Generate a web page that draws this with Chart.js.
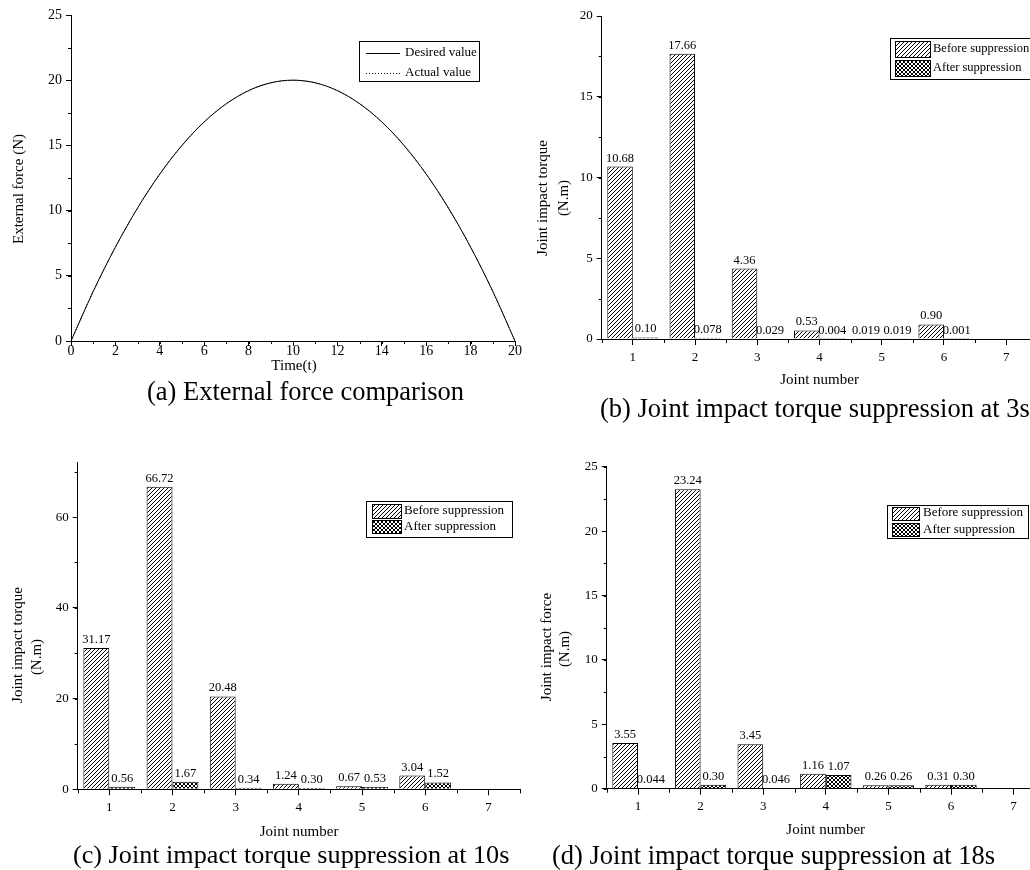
<!DOCTYPE html>
<html>
<head>
<meta charset="utf-8">
<script src="https://cdn.jsdelivr.net/npm/chart.js@4.4.0/dist/chart.umd.min.js"></script>
<style>
  html, body { margin: 0; padding: 0; background: #fff; width: 1030px; height: 870px; overflow: hidden; position: relative; }
  canvas { position: absolute; }
  .cap { position: absolute; font-family: 'Liberation Serif', 'Times New Roman', serif; font-size: 26.5px; line-height: 30px; white-space: nowrap; color: #000; }
</style>
</head>
<body>
<canvas id="chartA" width="530" height="440" style="left:0px;top:0px"></canvas>
<canvas id="chartB" width="540" height="440" style="left:510px;top:0px"></canvas>
<canvas id="chartC" width="530" height="430" style="left:0px;top:440px"></canvas>
<canvas id="chartD" width="540" height="430" style="left:510px;top:440px"></canvas>
<div class="cap" style="left:147px;top:376px">(a) External force comparison</div>
<div class="cap" style="left:600px;top:393px">(b) Joint impact torque suppression at 3s</div>
<div class="cap" style="left:73px;top:840px;font-size:26.2px">(c) Joint impact torque suppression at 10s</div>
<div class="cap" style="left:552px;top:840px">(d) Joint impact torque suppression at 18s</div>
<script>
// données
const timeValues = [0, 1, 2, 3, 4, 5, 6, 7, 8, 9, 10, 11, 12, 13, 14, 15, 16, 17, 18, 19, 20];
const desiredForce = [0, 3.8, 7.2, 10.2, 12.8, 15.0, 16.8, 18.2, 19.2, 19.8, 20.0, 19.8, 19.2, 18.2, 16.8, 15.0, 12.8, 10.2, 7.2, 3.8, 0];
const actualForce = [0, 3.8, 7.2, 10.2, 12.8, 15.0, 16.8, 18.2, 19.2, 19.8, 20.0, 19.8, 19.2, 18.2, 16.8, 15.0, 12.8, 10.2, 7.2, 3.8, 0];

const joints = ['1', '2', '3', '4', '5', '6', '7'];
const before3s = ['10.68', '17.66', '4.36', '0.53', '0.019', '0.90', null];
const after3s = ['0.10', '0.078', '0.029', '0.004', '0.019', '0.001', null];
const before10s = ['31.17', '66.72', '20.48', '1.24', '0.67', '3.04', null];
const after10s = ['0.56', '1.67', '0.34', '0.30', '0.53', '1.52', null];
const before18s = ['3.55', '23.24', '3.45', '1.16', '0.26', '0.31', null];
const after18s = ['0.044', '0.30', '0.046', '1.07', '0.26', '0.30', null];

const FONT = "'Liberation Serif', 'Times New Roman', serif";
Chart.defaults.font.family = FONT;
Chart.defaults.color = '#000';
Chart.defaults.animation = false;

// motifs de hachures
function makePattern(kind) {
    const c = document.createElement('canvas');
    c.width = 4; c.height = 4;
    const g = c.getContext('2d');
    g.fillStyle = '#fff';
    g.fillRect(0, 0, 4, 4);
    g.strokeStyle = '#000';
    g.lineWidth = 1;
    g.beginPath();
    g.moveTo(0, 4); g.lineTo(4, 0);
    g.moveTo(-1, 1); g.lineTo(1, -1);
    g.moveTo(3, 5); g.lineTo(5, 3);
    if (kind === 'cross') {
        g.moveTo(0, 0); g.lineTo(4, 4);
        g.moveTo(-1, 3); g.lineTo(1, 5);
        g.moveTo(3, -1); g.lineTo(5, 1);
    }
    g.stroke();
    return g.createPattern(c, 'repeat');
}
const hatch = makePattern('diag');
const cross = makePattern('cross');

function toNum(arr) {
    return arr.map(v => v === null ? null : parseFloat(v));
}

function line(ctx, x1, y1, x2, y2) {
    ctx.beginPath();
    ctx.moveTo(x1, y1);
    ctx.lineTo(x2, y2);
    ctx.stroke();
}

// petites graduations, titres d'axes, légende
const decor = {
    id: 'decor',
    afterDraw(chart, args, o) {
        const ctx = chart.ctx;
        const xs = chart.scales.x, ys = chart.scales.y;
        ctx.save();
        ctx.strokeStyle = '#000';
        ctx.lineWidth = 1;
        if (o.yMinor) {
            for (let v = ys.min; v <= ys.max + 1e-9; v += o.yMinor) {
                const p = Math.round(ys.getPixelForValue(v)) + 0.5;
                line(ctx, ys.right - 3, p, ys.right, p);
            }
        }
        if (o.xMinor) {
            for (let v = xs.min; v <= xs.max + 1e-9; v += o.xMinor) {
                const p = Math.round(xs.getPixelForValue(v)) + 0.5;
                line(ctx, p, xs.top, p, xs.top + 3);
            }
        }
        if (o.xBounds) {
            const n = chart.data.labels.length;
            for (let i = 0; i <= n; i++) {
                const p = Math.round(xs.left + i * xs.width / n) + 0.5;
                line(ctx, p, xs.top, p, xs.top + 4);
            }
        }
        ctx.fillStyle = '#000';
        ctx.textAlign = 'center';
        ctx.textBaseline = 'middle';
        ctx.font = '15px ' + FONT;
        if (o.xTitle) ctx.fillText(o.xTitle.text, o.xTitle.x, o.xTitle.y);
        (o.yTitle || []).forEach(t => {
            ctx.save();
            ctx.translate(t.x, t.y);
            ctx.rotate(-Math.PI / 2);
            ctx.fillText(t.text, 0, 0);
            ctx.restore();
        });
        const lg = o.legend;
        if (lg) {
            ctx.fillStyle = '#fff';
            ctx.fillRect(lg.x, lg.y, lg.w, lg.h);
            ctx.strokeRect(Math.round(lg.x) + 0.5, Math.round(lg.y) + 0.5, Math.round(lg.w), Math.round(lg.h));
            ctx.font = (lg.size || 13) + 'px ' + FONT;
            ctx.textAlign = 'left';
            lg.rows.forEach((r, i) => {
                const ds = chart.data.datasets[i];
                if (r.kind === 'line') {
                    ctx.save();
                    ctx.setLineDash(ds.borderDash || []);
                    line(ctx, r.x1, r.y + 0.5, r.x2, r.y + 0.5);
                    ctx.restore();
                } else {
                    ctx.fillStyle = ds.backgroundColor;
                    ctx.fillRect(r.x1, r.y1, r.x2 - r.x1, r.y2 - r.y1);
                    ctx.strokeRect(Math.round(r.x1) + 0.5, Math.round(r.y1) + 0.5, Math.round(r.x2 - r.x1), Math.round(r.y2 - r.y1));
                }
                ctx.fillStyle = '#000';
                ctx.fillText(ds.label, r.tx, r.ty);
            });
        }
        ctx.restore();
    }
};

// valeurs au-dessus des barres
const barLabels = {
    id: 'barLabels',
    afterDatasetsDraw(chart, args, o) {
        if (!o.texts) return;
        const ctx = chart.ctx;
        ctx.save();
        ctx.font = '12.5px ' + FONT;
        ctx.fillStyle = '#000';
        ctx.textAlign = 'center';
        ctx.textBaseline = 'bottom';
        chart.data.datasets.forEach((ds, i) => {
            chart.getDatasetMeta(i).data.forEach((bar, j) => {
                const t = o.texts[i][j];
                if (t === null) return;
                // petit décalage pour les étiquettes qui se chevauchent
                const dx = (o.nudge && o.nudge[j]) ? (i === 0 ? -o.nudge[j] : o.nudge[j]) : 0;
                ctx.fillText(t, bar.x + dx, bar.y - 2);
            });
        });
        ctx.restore();
    }
};
Chart.register(decor, barLabels);

// zone de tracé fixée à la main
function axisOpts(extra, fit) {
    return Object.assign({
        grid: { drawOnChartArea: false, drawTicks: true, tickLength: 5, color: '#000' },
        border: { display: true, color: '#000', width: 1 },
        afterFit: fit
    }, extra);
}

// (a) force externe
new Chart(document.getElementById('chartA'), {
    type: 'line',
    data: {
        datasets: [{
            label: 'Desired value',
            data: timeValues.map((t, i) => ({ x: t, y: desiredForce[i] })),
            borderColor: '#000', borderWidth: 1, pointRadius: 0, cubicInterpolationMode: 'monotone'
        }, {
            label: 'Actual value',
            data: timeValues.map((t, i) => ({ x: t, y: actualForce[i] })),
            borderColor: '#000', borderWidth: 1, borderDash: [1, 2], pointRadius: 0, cubicInterpolationMode: 'monotone'
        }]
    },
    options: {
        responsive: false,
        layout: { padding: { left: 0, top: 15, right: 15, bottom: 0 } },
        plugins: {
            legend: { display: false }, tooltip: { enabled: false },
            decor: {
                xMinor: 1, yMinor: 2.5,
                xTitle: { text: 'Time(t)', x: 294, y: 366 },
                yTitle: [{ text: 'External force (N)', x: 19, y: 189 }],
                legend: {
                    x: 359, y: 41, w: 120, h: 40,
                    rows: [
                        { kind: 'line', x1: 366, x2: 400, y: 53, tx: 405, ty: 53 },
                        { kind: 'line', x1: 366, x2: 400, y: 73, tx: 405, ty: 73 }
                    ]
                }
            }
        },
        scales: {
            x: axisOpts({
                type: 'linear', min: 0, max: 20,
                ticks: { stepSize: 2, font: { size: 14 }, padding: -3, maxRotation: 0 }
            }, s => { s.height = 440 - 341; }),
            y: axisOpts({
                type: 'linear', min: 0, max: 25,
                ticks: { stepSize: 5, font: { size: 14 }, padding: 4 }
            }, s => { s.width = 71; })
        }
    }
});

function barChart(id, w, h, area, yMax, yStep, yMinor, before, after, deco, nudge) {
    deco.yMinor = yMinor;
    deco.xBounds = true;
    new Chart(document.getElementById(id), {
        type: 'bar',
        data: {
            labels: joints,
            datasets: [{
                label: 'Before suppression',
                data: toNum(before),
                backgroundColor: hatch, borderColor: '#000', borderWidth: 1,
                categoryPercentage: 0.82, barPercentage: 1
            }, {
                label: 'After suppression',
                data: toNum(after),
                backgroundColor: cross, borderColor: '#000', borderWidth: 1,
                categoryPercentage: 0.82, barPercentage: 1
            }]
        },
        options: {
            responsive: false,
            layout: { padding: { left: 0, top: area.top, right: w - area.right, bottom: 0 } },
            plugins: {
                legend: { display: false }, tooltip: { enabled: false },
                decor: deco,
                barLabels: { texts: [before, after], nudge: nudge }
            },
            scales: {
                x: axisOpts({
                    grid: { drawOnChartArea: false, drawTicks: true, tickLength: 6, color: '#000', offset: false },
                    ticks: { font: { size: 13 }, padding: area.tickPad, maxRotation: 0 }
                }, s => { s.height = h - area.bottom; }),
                y: axisOpts({
                    min: 0, max: yMax,
                    ticks: { stepSize: yStep, font: { size: 13 }, padding: 4, includeBounds: false }
                }, s => { s.width = area.left; })
            }
        }
    });
}

// (b) 3s
barChart('chartB', 540, 440, { left: 91.7, top: 16, right: 527.3, bottom: 339, tickPad: 5 }, 20, 5, 2.5,
    before3s, after3s, {
        xTitle: { text: 'Joint number', x: 309.5, y: 380 },
        yTitle: [{ text: 'Joint impact torque', x: 33, y: 198 }, { text: '(N.m)', x: 54, y: 198 }],
        legend: {
            x: 380, y: 38, w: 170, h: 41, size: 12.5,
            rows: [
                { kind: 'box', x1: 385, x2: 420, y1: 41, y2: 57, tx: 423, ty: 49 },
                { kind: 'box', x1: 385, x2: 420, y1: 60, y2: 76, tx: 423, ty: 68 }
            ]
        }
    }, [0, 0, 0, 0, 3, 0, 0]);

// (c) 10s
barChart('chartC', 530, 430, { left: 77.7, top: 22.7, right: 520, bottom: 349.3, tickPad: 4 }, 72, 20, 10,
    before10s, after10s, {
        xTitle: { text: 'Joint number', x: 299, y: 392 },
        yTitle: [{ text: 'Joint impact torque', x: 18, y: 205 }, { text: '(N.m)', x: 37, y: 217 }],
        legend: {
            x: 366, y: 61, w: 146, h: 36,
            rows: [
                { kind: 'box', x1: 372, x2: 401, y1: 64, y2: 78, tx: 404, ty: 71 },
                { kind: 'box', x1: 372, x2: 401, y1: 80, y2: 93, tx: 404, ty: 87 }
            ]
        }
    });

// (d) 18s
barChart('chartD', 540, 430, { left: 96.7, top: 26.7, right: 534.9, bottom: 348.7, tickPad: 4 }, 25, 5, 2.5,
    before18s, after18s, {
        xTitle: { text: 'Joint number', x: 315.7, y: 390 },
        yTitle: [{ text: 'Joint impact force', x: 37, y: 207 }, { text: '(N.m)', x: 55, y: 209 }],
        legend: {
            x: 377, y: 65, w: 141, h: 33,
            rows: [
                { kind: 'box', x1: 382, x2: 409, y1: 67, y2: 80, tx: 413, ty: 73 },
                { kind: 'box', x1: 382, x2: 409, y1: 83, y2: 96, tx: 413, ty: 90 }
            ]
        }
    });
</script>
</body>
</html>
